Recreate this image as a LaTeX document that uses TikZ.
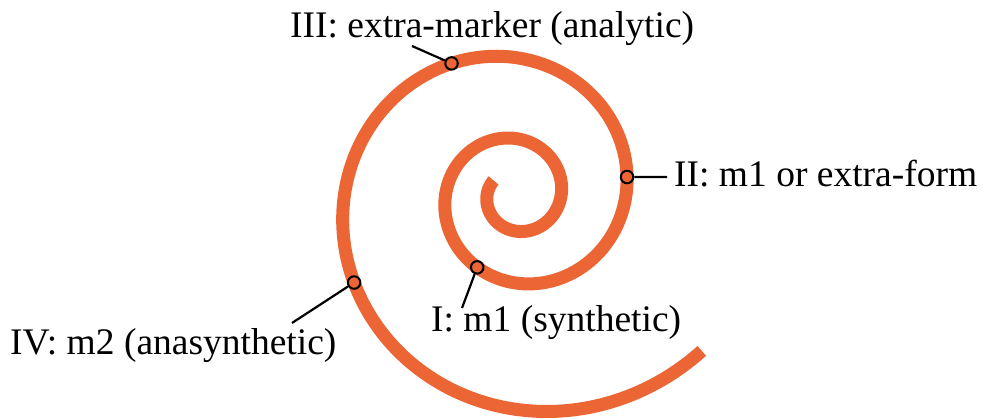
\documentclass[tikz,border=0pt]{standalone}
\usepackage{fontspec}
\setmainfont{Liberation Serif}
\definecolor{spiralorange}{RGB}{236,101,52}
\newcommand\spiralpt[1]{({516+18.55*exp(0.0024714*(#1))*cos(#1)}, {195-18.55*exp(0.0024714*(#1))*sin(#1)})}
\tikzset{
  spiralline/.style={draw=spiralorange, line width=13pt},
  markerdot/.style={circle, draw=black, line width=2pt, fill=spiralorange, minimum size=12.5pt, inner sep=0pt},
  leader/.style={draw=black, line width=2.2pt},
  lbl/.style={inner sep=0pt, font=\fontsize{37.5}{44}\selectfont, text=black}
}
\begin{document}
\begin{tikzpicture}[x=1pt, y=-1pt]
\useasboundingbox (0,0) rectangle (986,419);
\draw[spiralline] plot[domain=147:1040, samples=500, variable=\t, smooth]
  ({516+18.55*exp(0.0024714*\t)*cos(\t)}, {195-18.55*exp(0.0024714*\t)*sin(\t)});
% markers
\node[markerdot] (mI)   at \spiralpt{601.8} {};
\node[markerdot] (mII)  at \spiralpt{729.2} {};
\node[markerdot] (mIII) at \spiralpt{836.1} {};
\node[markerdot] (mIV)  at \spiralpt{928.4} {};
% leader ends
\coordinate (cI)   at (462,308);
\coordinate (cII)  at (667,177);
\coordinate (cIII) at (412,46);
\coordinate (cIV)  at (292,323);
\draw[leader] (mI) -- (cI);
\draw[leader] (mII) -- (cII);
\draw[leader] (mIII) -- (cIII);
\draw[leader] (mIV) -- (cIV);
% labels
\node[lbl, anchor=base west] (tI)   at (431,332) {I: m1 (synthetic)};
\node[lbl, anchor=base west] (tII)  at (674,187) {II: m1 or extra-form};
\node[lbl, anchor=base west] (tIII) at (290,38)  {III: extra-marker (analytic)};
\node[lbl, anchor=base west] (tIV)  at (10,355)  {IV: m2 (anasynthetic)};
\end{tikzpicture}
\end{document}
